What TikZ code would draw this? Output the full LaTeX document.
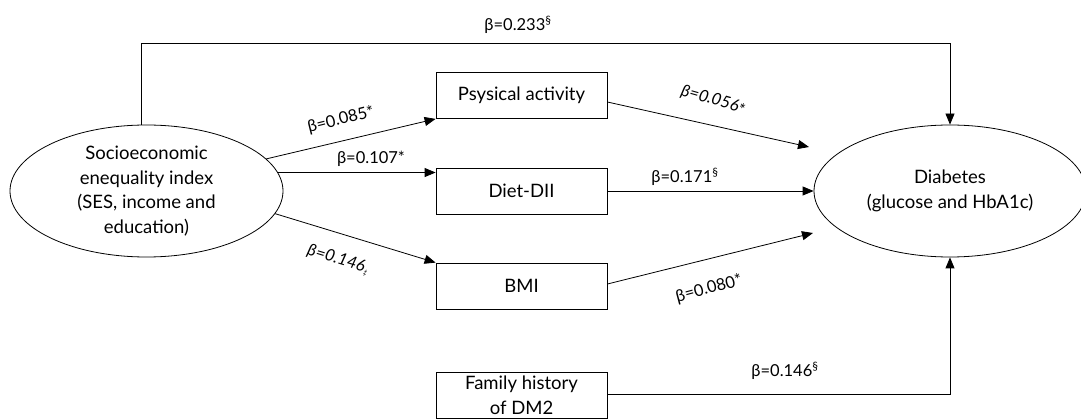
\documentclass[tikz,border=0pt]{standalone}
\usepackage{fontspec}
\setmainfont{Lato}
\usetikzlibrary{shapes.geometric,arrows.meta,calc}
\begin{document}
\begin{tikzpicture}[x=1pt,y=-1pt,
  txt/.style={font=\fontsize{18.5}{24.5}\selectfont, align=center, inner sep=0pt},
  oval/.style={ellipse, draw, line width=0.8pt, txt},
  boxnode/.style={draw, line width=0.8pt, minimum width=171pt, minimum height=46pt, txt},
  arr/.style={line width=0.8pt, -{Triangle[length=11pt,width=9pt]}},
  lab/.style={font=\fontsize{16.5}{18}\selectfont, inner sep=0pt}
]
\useasboundingbox (0,0) rectangle (1081,419);
\node[oval, minimum width=273pt, minimum height=132pt] (ses) at (146.5,191)
  {Socioeconomic\\enequality index\\(SES, income and\\education)};
\node[oval, minimum width=272pt, minimum height=132pt] (dia) at (950,191)
  {Diabetes\\(glucose and HbA1c)};
\node[boxnode] (pa) at (521.5,95.5) {Psysical activity};
\node[boxnode] (diet) at (521.5,191) {Diet-DII};
\node[boxnode] (bmi) at (521.5,286) {BMI};
\node[boxnode] (fam) at (521.5,395.5) {Family history\\of DM2};
\coordinate (top) at (0,43);
\coordinate (paend) at (809,147);
\coordinate (bmiend) at (813,233);
% connectors
\draw[arr] ([xshift=-5pt]ses.north) -- ([xshift=-5pt]ses.north |- top) -| (dia.north);
\draw[arr] (ses.15) -- (pa.south west);
\draw[arr] (ses.8) -- (ses.8 -| diet.west);
\draw[arr] (ses.-10) -- (bmi.north west);
\draw[arr] ([yshift=-6.5pt]pa.east) -- (paend);
\draw[arr] (diet.east) -- (dia.west);
\draw[arr] ([yshift=2pt]bmi.east) -- (bmiend);
\draw[arr] ([yshift=1.5pt]fam.east) -| (dia.south);
% labels
\node[lab] (l1) at (518,25) {β=0.233\textsuperscript{§}};
\node[lab, rotate=14] (l2) at (341,120) {β=0.085*};
\node[lab] (l3) at (371,159) {β=0.107*};
\node[lab, rotate=-17] (l4) at (338,260) {\itshape β=0.146\raisebox{-0.3ex}{\scriptsize ‡}};
\node[lab, rotate=-16] (l5) at (713,100) {\itshape β=0.056\raisebox{-0.4ex}{*}};
\node[lab] (l6) at (685,177) {β=0.171\textsuperscript{§}};
\node[lab, rotate=15] (l7) at (709,289) {β=0.080*};
\node[lab] (l8) at (785,371) {β=0.146\textsuperscript{§}};
\end{tikzpicture}
\end{document}
